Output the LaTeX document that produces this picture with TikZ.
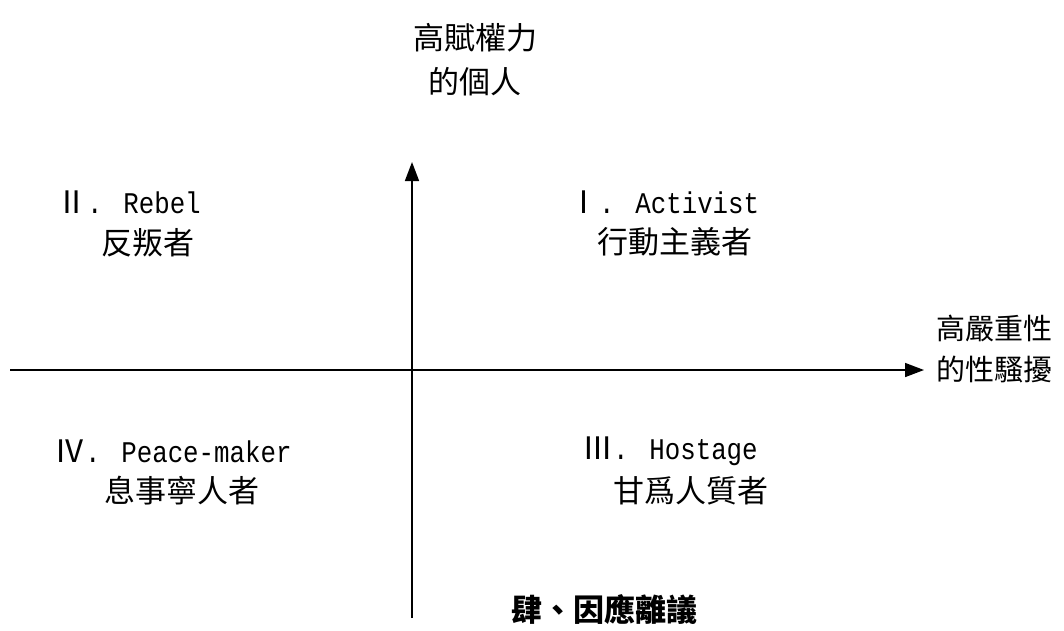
\documentclass[tikz,border=0pt]{standalone}
\usepackage{fontspec}
\usetikzlibrary{arrows.meta}
\newfontfamily\cjk{Noto Sans CJK TC}
\newfontfamily\mono[FakeStretch=0.86]{Liberation Mono}
\newcommand{\lat}[1]{{\mono\fontsize{30}{34}\selectfont #1}}
\tikzset{
  axis/.style={line width=1.6pt,-{Triangle[length=19pt,width=14pt]}},
  lab/.style={inner sep=0pt,anchor=west,font=\cjk\fontsize{31}{36}\selectfont},
  rlab/.style={inner sep=0pt,anchor=west,font=\cjk\fontsize{29}{35}\selectfont},
  toplab/.style={inner sep=0pt,align=center,font=\cjk\fontsize{31}{44}\selectfont},
}
\begin{document}
\begin{tikzpicture}[x=1pt,y=-1pt]
\useasboundingbox (0,0) rectangle (1064,630);
% axis end points
\coordinate (vb) at (412,618);
\coordinate (vt) at (412,162);
\coordinate (hl) at (10,370);
\coordinate (hr) at (924,370);
\draw[axis] (vb) -- (vt);
\draw[axis] (hl) -- (hr);
% labels
\node[toplab] (top) at (475,60) {高賦權力\\的個人};
\node[rlab] (rt1) at (936,328) {高嚴重性};
\node[rlab] (rt2) at (936,369) {的性騷擾};
\node[lab] (q2a) at (56,202) {Ⅱ\lat{. Rebel}};
\node[lab] (q2b) at (101,243) {反叛者};
\node[lab] (q1a) at (568,202) {Ⅰ\lat{. Activist}};
\node[lab] (q1b) at (597,242) {行動主義者};
\node[lab] (q4a) at (54,451) {Ⅳ\lat{. Peace-maker}};
\node[lab] (q4b) at (104,491) {息事寧人者};
\node[lab] (q3a) at (582,451) {Ⅲ\lat{. Hostage}};
\node[lab] (q3b) at (613,491) {甘爲人質者};
\node[lab,font=\cjk\bfseries\fontsize{31}{36}\selectfont] (bot) at (511,610) {肆、因應離議};
\end{tikzpicture}
\end{document}
